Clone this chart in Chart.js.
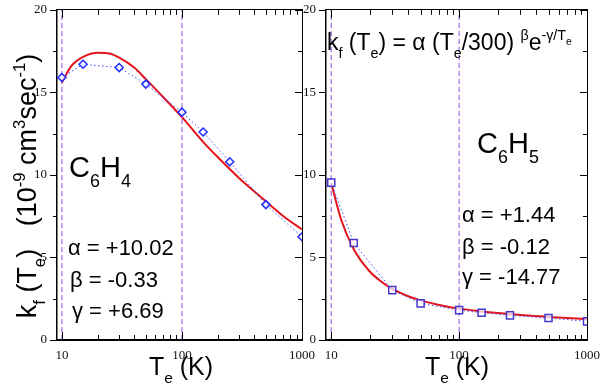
<!DOCTYPE html>
<html lang="en">
<head>
    <meta charset="UTF-8">
    <title>kf(Te) C6H4 / C6H5</title>
    <script src="https://cdn.jsdelivr.net/npm/chart.js@4.4.1/dist/chart.umd.min.js"></script>
    <style>
        * { margin: 0; padding: 0; box-sizing: border-box; }
        body { width: 600px; height: 392px; background: #fff; position: relative; overflow: hidden; }
        canvas { position: absolute; top: 0; }
        #left { left: 0; }
        #right { left: 296px; }
        .frame { position: absolute; border: 1.5px solid #000; pointer-events: none; }
    </style>
</head>
<body>
    <canvas id="left" width="320" height="392"></canvas>
    <canvas id="right" width="304" height="392"></canvas>

    <script>
        // axis range / ticks
        const xMin = 9.1;
        const xMax = 1000;
        const yMin = 0;
        const yMax = 20;
        const xMajor = [10, 100, 1000];
        const xAllTicks = [10, 20, 30, 40, 50, 60, 70, 80, 90, 100, 200, 300, 400, 500, 600, 700, 800, 900, 1000];
        const yMajor = [0, 5, 10, 15, 20];
        const yAllTicks = [0, 2.5, 5, 7.5, 10, 12.5, 15, 17.5, 20];
        const refTemps = [10, 100];

        // measured rates (points)
        const tempsC6H4 = [10, 15, 30, 50, 100, 150, 250, 500, 1000];
        const rateC6H4 = [15.9, 16.7, 16.5, 15.5, 13.8, 12.6, 10.8, 8.2, 6.25];
        const tempsC6H5 = [10, 15, 30, 50, 100, 150, 250, 500, 1000];
        const rateC6H5 = [9.53, 5.88, 3.02, 2.22, 1.81, 1.65, 1.49, 1.33, 1.13];

        // fitted curves
        const fitTemps = [10, 12, 15, 20, 25, 30, 40, 50, 70, 100, 150, 200, 300, 500, 700, 1000];
        const fitC6H4 = [15.6, 16.6, 17.15, 17.4, 17.35, 17.1, 16.5, 15.8, 14.7, 13.5, 12.0, 11.05, 9.8, 8.4, 7.5, 6.7];
        const fitC6H5 = [9.5, 7.25, 5.5, 4.15, 3.5, 3.1, 2.65, 2.4, 2.12, 1.9, 1.73, 1.63, 1.51, 1.4, 1.33, 1.26];

        const SANS = '"Liberation Sans", Arial, sans-serif';
        const SERIF = '"Liberation Serif", "Times New Roman", serif';

        // rich text: segments [text, kind]
        const KIND = {
            n: { s: 1, dy: 0 },
            sub: { s: 0.62, dy: 0.33 },
            sup: { s: 0.62, dy: -0.42 },
            supsub: { s: 0.45, dy: -0.2 }
        };

        // annotation text per panel (page coordinates)
        const textsLeft = [
            { x: 36, y: 186, rot: true, size: 27, align: 'center', segs: [
                ['k', 'n'], ['f', 'sub'], [' (T', 'n'], ['e', 'sub'], [')   (10', 'n'], ['-9', 'sup'],
                [' cm', 'n'], ['3', 'sup'], ['sec', 'n'], ['-1', 'sup'], [')', 'n']] },
            { x: 181, y: 375, size: 25, align: 'center', segs: [['T', 'n'], ['e', 'sub'], [' (K)', 'n']] },
            { x: 69, y: 177, size: 29, segs: [['C', 'n'], ['6', 'sub'], ['H', 'n'], ['4', 'sub']] },
            { x: 68, y: 255, size: 22, segs: [['α = +10.02', 'n']] },
            { x: 70, y: 287, size: 22, segs: [['β = -0.33', 'n']] },
            { x: 72, y: 318, size: 22, segs: [['γ = +6.69', 'n']] }
        ];
        const textsRight = [
            { x: 327, y: 50, size: 23, segs: [
                ['k', 'n'], ['f', 'sub'], [' (T', 'n'], ['e', 'sub'], [') = α (T', 'n'], ['e', 'sub'],
                ['/300) ', 'n'], ['β', 'sup'], ['e', 'n'], ['-γ/T', 'sup'], ['e', 'supsub']] },
            { x: 457, y: 375, size: 25, align: 'center', segs: [['T', 'n'], ['e', 'sub'], [' (K)', 'n']] },
            { x: 477, y: 153, size: 29, segs: [['C', 'n'], ['6', 'sub'], ['H', 'n'], ['5', 'sub']] },
            { x: 462, y: 222, size: 22, segs: [['α = +1.44', 'n']] },
            { x: 462, y: 254, size: 22, segs: [['β = -0.12', 'n']] },
            { x: 462, y: 284, size: 22, segs: [['γ = -14.77', 'n']] }
        ];

        function richWidth(ctx, segs, size) {
            let w = 0;
            segs.forEach(([t, k]) => {
                ctx.font = (size * KIND[k].s) + 'px ' + SANS;
                w += ctx.measureText(t).width;
            });
            return w;
        }

        function drawRich(ctx, x, y, segs, size, align) {
            let cx = x;
            if (align === 'center') cx -= richWidth(ctx, segs, size) / 2;
            ctx.textBaseline = 'alphabetic';
            ctx.textAlign = 'left';
            segs.forEach(([t, k]) => {
                ctx.font = (size * KIND[k].s) + 'px ' + SANS;
                ctx.fillText(t, cx, y + KIND[k].dy * size);
                cx += ctx.measureText(t).width;
            });
        }

        const pts = (xs, ys) => xs.map((x, i) => ({ x: x, y: ys[i] }));

        function refLines() {
            return refTemps.map(t => ({
                data: [{ x: t, y: yMin }, { x: t, y: yMax }],
                borderColor: '#8f4fe0',
                borderWidth: 1,
                borderDash: [5, 3],
                pointRadius: 0
            }));
        }

        // inward ticks on top / bottom / right, outward on the left
        function drawTicks(chart) {
            const ctx = chart.ctx;
            const a = chart.chartArea;
            const xs = chart.scales.x, ys = chart.scales.y;
            ctx.save();
            ctx.fillStyle = '#000';
            xAllTicks.forEach(v => {
                const px = Math.round(xs.getPixelForValue(v));
                const len = xMajor.includes(v) ? 8 : 5;
                ctx.fillRect(px, a.bottom - len, 1, len);
                ctx.fillRect(px, a.top, 1, len);
            });
            yAllTicks.forEach(v => {
                const py = Math.round(ys.getPixelForValue(v));
                const len = yMajor.includes(v) ? 7 : 4;
                ctx.fillRect(a.left - len, py, len, 1);
                ctx.fillRect(a.right - len, py, len, 1);
            });
            ctx.restore();
        }

        // frame box laid over the chart area reported by Chart.js
        function addFrame(chart, offset) {
            const a = chart.chartArea;
            const box = document.createElement('div');
            box.className = 'frame';
            box.style.left = (offset + a.left - 0.75) + 'px';
            box.style.top = (a.top - 0.75) + 'px';
            box.style.width = (a.right - a.left + 1.5) + 'px';
            box.style.height = (a.bottom - a.top + 1.5) + 'px';
            document.body.appendChild(box);
        }

        function makeChart(id, offset, padding, datasets, texts) {
            const labelsPlugin = {
                id: 'panelText',
                afterDraw(chart) {
                    drawTicks(chart);
                    const ctx = chart.ctx;
                    ctx.save();
                    ctx.translate(-offset, 0);
                    ctx.fillStyle = '#000';
                    texts.forEach(t => {
                        if (t.rot) {
                            ctx.save();
                            ctx.translate(t.x, t.y);
                            ctx.rotate(-Math.PI / 2);
                            drawRich(ctx, 0, 0, t.segs, t.size, t.align);
                            ctx.restore();
                        } else {
                            drawRich(ctx, t.x, t.y, t.segs, t.size, t.align);
                        }
                    });
                    ctx.restore();
                }
            };
            const chart = new Chart(document.getElementById(id), {
                type: 'line',
                data: { datasets: datasets },
                options: {
                    responsive: false,
                    animation: false,
                    devicePixelRatio: 1,
                    layout: { padding: padding },
                    plugins: {
                        legend: { display: false },
                        tooltip: { enabled: false }
                    },
                    scales: {
                        x: {
                            type: 'logarithmic',
                            min: xMin,
                            max: xMax,
                            border: { display: true, color: '#000', width: 1.5 },
                            grid: { display: false },
                            afterBuildTicks: s => { s.ticks = xMajor.map(v => ({ value: v })); },
                            afterFit: s => { s.height = 52; },
                            ticks: {
                                autoSkip: false,
                                maxRotation: 0,
                                padding: 0,
                                color: '#111',
                                font: { family: SERIF, size: 13 },
                                callback: v => String(v)
                            }
                        },
                        y: {
                            min: yMin,
                            max: yMax,
                            border: { display: true, color: '#000', width: 1.5 },
                            grid: { display: false },
                            afterBuildTicks: s => { s.ticks = yMajor.map(v => ({ value: v })); },
                            afterFit: s => { s.width = 30; },
                            ticks: {
                                padding: 2,
                                color: '#111',
                                font: { family: SERIF, size: 13 }
                            }
                        }
                    }
                },
                plugins: [labelsPlugin]
            });
            addFrame(chart, offset);
            return chart;
        }

        makeChart('left', 0, { left: 27, right: 18, top: 9, bottom: 0 }, [
            {
                data: pts(tempsC6H4, rateC6H4),
                borderColor: '#3a4dff',
                borderWidth: 1,
                borderDash: [1.5, 2.5],
                pointStyle: 'rectRot',
                pointRadius: 4,
                pointBorderWidth: 1.5,
                pointBorderColor: '#1f2bff',
                pointBackgroundColor: 'rgba(255,255,255,0.7)',
                tension: 0
            },
            {
                data: pts(fitTemps, fitC6H4),
                borderColor: '#e4141c',
                borderWidth: 2,
                pointRadius: 0,
                cubicInterpolationMode: 'monotone'
            },
            ...refLines()
        ], textsLeft);

        makeChart('right', 296, { left: 0, right: 13, top: 9, bottom: 0 }, [
            {
                data: pts(tempsC6H5, rateC6H5),
                borderColor: '#3a4dff',
                borderWidth: 1,
                borderDash: [1.5, 2.5],
                pointStyle: 'rect',
                pointRadius: 5,
                pointBorderWidth: 1.5,
                pointBorderColor: '#4437cc',
                pointBackgroundColor: 'rgba(255,255,255,0.7)',
                tension: 0
            },
            {
                data: pts(fitTemps, fitC6H5),
                borderColor: '#e4141c',
                borderWidth: 2,
                pointRadius: 0,
                cubicInterpolationMode: 'monotone'
            },
            ...refLines()
        ], textsRight);
    </script>
</body>
</html>
